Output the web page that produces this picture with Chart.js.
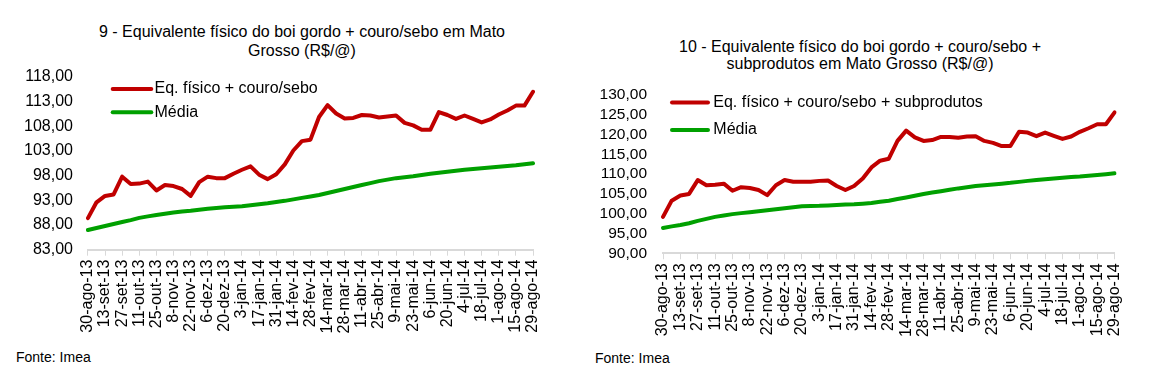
<!DOCTYPE html>
<html>
<head>
<meta charset="utf-8">
<script src="https://cdn.jsdelivr.net/npm/chart.js@4"></script>
<style>
  body { margin: 0; background: #fff; font-family: "Liberation Sans", Arial, sans-serif; }
  #wrap { position: relative; width: 1156px; height: 386px; overflow: hidden; }
  canvas { position: absolute; top: 0; }
  .title { position: absolute; width: 520px; text-align: center; color: #000; font-size: 16px; }
  .fonte { position: absolute; color: #000; font-size: 14px; }
</style>
</head>
<body>
<div id="wrap">
  <div class="title" style="left:42px; top:22px; line-height:19px;">9 - Equivalente físico do boi gordo + couro/sebo em Mato<br>Grosso (R$/@)</div>
  <div class="title" style="left:600px; top:38px; line-height:17px;">10 - Equivalente físico do boi gordo + couro/sebo +<br>subprodutos em Mato Grosso (R$/@)</div>
  <canvas id="chart1" width="560" height="340" style="left:0px"></canvas>
  <canvas id="chart2" width="576" height="345" style="left:580px"></canvas>
  <div class="fonte" style="left:16px; top:349px;">Fonte: Imea</div>
  <div class="fonte" style="left:595px; top:350px;">Fonte: Imea</div>
</div>
<script>
const weeks = [
  "30-ago-13", "6-set-13", "13-set-13", "20-set-13", "27-set-13",
  "4-out-13", "11-out-13", "18-out-13", "25-out-13",
  "1-nov-13", "8-nov-13", "15-nov-13", "22-nov-13", "29-nov-13",
  "6-dez-13", "13-dez-13", "20-dez-13", "27-dez-13",
  "3-jan-14", "10-jan-14", "17-jan-14", "24-jan-14", "31-jan-14",
  "7-fev-14", "14-fev-14", "21-fev-14", "28-fev-14",
  "7-mar-14", "14-mar-14", "21-mar-14", "28-mar-14",
  "4-abr-14", "11-abr-14", "18-abr-14", "25-abr-14",
  "2-mai-14", "9-mai-14", "16-mai-14", "23-mai-14", "30-mai-14",
  "6-jun-14", "13-jun-14", "20-jun-14", "27-jun-14",
  "4-jul-14", "11-jul-14", "18-jul-14", "25-jul-14",
  "1-ago-14", "8-ago-14", "15-ago-14", "22-ago-14", "29-ago-14",
];

// grafico 9
const eqCouro = [
  89.4, 92.6, 93.9, 94.2, 97.8, 96.3, 96.4, 96.8, 95.0, 96.1,
  95.9, 95.3, 93.9, 96.7, 97.8, 97.5, 97.5, 98.4, 99.2, 99.9,
  98.2, 97.3, 98.3, 100.3, 103.1, 105.0, 105.3, 109.9, 112.3, 110.6,
  109.6, 109.7, 110.3, 110.2, 109.8, 110.0, 110.2, 108.7, 108.2, 107.3,
  107.3, 110.9, 110.3, 109.5, 110.2, 109.5, 108.8, 109.4, 110.4, 111.2,
  112.2, 112.2, 115.0,
];
const mediaCouro = [
  87.0, 87.4, 87.8, 88.2, 88.6, 89.0, 89.45, 89.75, 90.05, 90.3,
  90.55, 90.75, 90.9, 91.1, 91.3, 91.45, 91.6, 91.7, 91.8, 92.0,
  92.2, 92.4, 92.65, 92.9, 93.2, 93.5, 93.8, 94.1, 94.5, 94.9,
  95.3, 95.7, 96.1, 96.5, 96.9, 97.2, 97.5, 97.7, 97.9, 98.15,
  98.4, 98.6, 98.8, 99.0, 99.2, 99.35, 99.5, 99.65, 99.8, 99.95,
  100.1, 100.3, 100.5,
];
const yTicks1 = [83, 88, 93, 98, 103, 108, 113, 118];

// grafico 10
const eqSubprod = [
  99.2, 103.3, 104.6, 105.0, 108.5, 107.2, 107.3, 107.6, 105.8, 106.7,
  106.5, 106.0, 104.7, 107.2, 108.5, 108.1, 108.1, 108.1, 108.3, 108.4,
  107.0, 106.0, 107.0, 108.9, 111.7, 113.4, 113.9, 118.4, 121.0, 119.3,
  118.4, 118.6, 119.4, 119.4, 119.2, 119.5, 119.6, 118.4, 117.9, 117.1,
  117.1, 120.7, 120.5, 119.6, 120.5, 119.7, 118.9, 119.5, 120.7, 121.6,
  122.6, 122.6, 125.6,
];
const mediaSubprod = [
  96.4, 96.8, 97.15, 97.6, 98.2, 98.7, 99.2, 99.55, 99.9, 100.15,
  100.4, 100.65, 100.9, 101.15, 101.4, 101.65, 101.9, 101.95, 102.0, 102.1,
  102.2, 102.3, 102.4, 102.55, 102.7, 103.0, 103.3, 103.7, 104.1, 104.55,
  105.0, 105.35, 105.7, 106.05, 106.4, 106.7, 107.0, 107.2, 107.4, 107.6,
  107.8, 108.05, 108.3, 108.5, 108.7, 108.9, 109.1, 109.25, 109.4, 109.6,
  109.8, 110.0, 110.2,
];
const yTicks2 = [90, 95, 100, 105, 110, 115, 120, 125, 130];

const RED = "#C00000";
const GREEN = "#00A000";
const FONT = "'Liberation Sans', Arial, sans-serif";

// legenda desenhada dentro da area do grafico
const insideLegend = {
  id: "insideLegend",
  afterDraw(chart, args, opts) {
    const c = chart.ctx;
    c.save();
    chart.data.datasets.forEach((ds, i) => {
      const y = opts.y[i];
      c.strokeStyle = ds.borderColor;
      c.lineWidth = 4;
      c.lineCap = "round";
      c.beginPath();
      c.moveTo(opts.x1, y);
      c.lineTo(opts.x2, y);
      c.stroke();
      c.fillStyle = "#000";
      c.font = opts.size + "px " + FONT;
      c.textBaseline = "middle";
      c.textAlign = "left";
      c.fillText(ds.label, opts.textX, y);
    });
    c.restore();
  },
};

function makeChart(id, s) {
  return new Chart(document.getElementById(id).getContext("2d"), {
    type: "line",
    data: {
      labels: weeks,
      datasets: [
        {
          label: s.label,
          data: s.eq,
          borderColor: RED,
          borderWidth: 4,
          pointRadius: 0,
          tension: 0,
          borderCapStyle: "round",
          borderJoinStyle: "round",
        },
        {
          label: "Média",
          data: s.media,
          borderColor: GREEN,
          borderWidth: 4,
          pointRadius: 0,
          tension: 0,
          borderCapStyle: "round",
          borderJoinStyle: "round",
        },
      ],
    },
    options: {
      responsive: false,
      animation: false,
      layout: { padding: s.padding },
      plugins: {
        legend: { display: false },
        tooltip: { enabled: false },
        insideLegend: s.legend,
      },
      scales: {
        x: {
          offset: false,
          border: { color: "#d9d9d9", width: 2 },
          grid: {
            drawOnChartArea: false,
            tickLength: 6,
            tickColor: (ctx) => (ctx.index % 2 ? "rgba(0,0,0,0)" : "#d9d9d9"),
          },
          ticks: {
            autoSkip: false,
            maxRotation: 90,
            minRotation: 90,
            padding: 4,
            color: "#000",
            font: { family: FONT, size: 16 },
            callback: (v, i) => (i % 2 ? "" : weeks[i]),
          },
        },
        y: {
          min: s.yTicks[0],
          max: s.yTicks[s.yTicks.length - 1],
          border: { display: false },
          grid: { display: false, drawTicks: false },
          afterBuildTicks: (scale) => {
            scale.ticks = s.yTicks.map((v) => ({ value: v }));
          },
          ticks: {
            autoSkip: false,
            padding: s.yPad,
            color: "#000",
            font: { family: FONT, size: s.ySize },
            callback: (v) => v.toFixed(2).replace(".", ","),
          },
        },
      },
    },
    plugins: [insideLegend],
  });
}

makeChart("chart1", {
  label: "Eq. físico + couro/sebo",
  eq: eqCouro,
  media: mediaCouro,
  yTicks: yTicks1,
  padding: { left: 9, right: 27, top: 77, bottom: 2.5 },
  ySize: 16,
  yPad: 15,
  legend: { x1: 112.7, x2: 151.3, textX: 154.5, y: [89, 112.3], size: 16 },
});

makeChart("chart2", {
  label: "Eq. físico + couro/sebo + subprodutos",
  eq: eqSubprod,
  media: mediaSubprod,
  yTicks: yTicks2,
  padding: { left: 3.6, right: 41.4, top: 95, bottom: 3.9 },
  ySize: 15.5,
  yPad: 16,
  legend: { x1: 92, x2: 128, textX: 133.3, y: [102.5, 130], size: 16 },
});
</script>
</body>
</html>
